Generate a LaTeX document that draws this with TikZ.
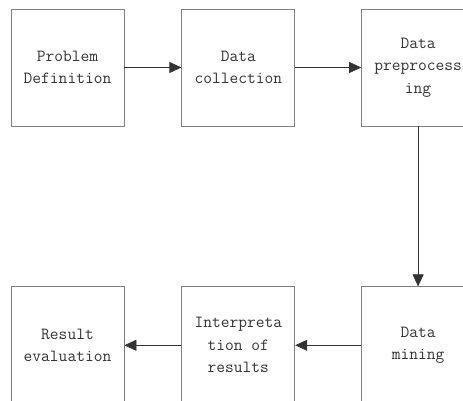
\documentclass[tikz,border=0pt]{standalone}
\usetikzlibrary{positioning,arrows.meta}
\begin{document}
\begin{tikzpicture}[x=1pt, y=1pt,
		stage/.style={draw=gray, line width=0.8pt, minimum width=113pt, minimum height=117pt,
			inner sep=0pt, align=center, text=black!80, font=\ttfamily\fontsize{17}{22.5}\selectfont},
		flow/.style={line width=0.7pt, black!80, -{Triangle[length=12pt,width=11pt]}}]
		\useasboundingbox (0,0) rectangle (463,401);
		\clip (0,0) rectangle (463,401);
		%top row
		\node[stage] (problem) at (67.5, 333.5) {Problem\\Definition};
		\node[stage, right=57pt of problem] (collect) {Data\\collection};
		\node[stage, right=66pt of collect] (prep) {Data\\preprocess\\ing};
		%bottom row
		\node[stage, below=160pt of prep] (mining) {Data\\mining};
		\node[stage, left=66pt of mining] (interp) {Interpreta\\tion of\\results};
		\node[stage, left=57pt of interp] (result) {Result\\evaluation};
		
		\draw[flow] (problem) -- (collect);
		\draw[flow] (collect) -- (prep);
		\draw[flow] (prep) -- (mining);
		\draw[flow] (mining) -- (interp);
		\draw[flow] (interp) -- (result);
\end{tikzpicture}
\end{document}
